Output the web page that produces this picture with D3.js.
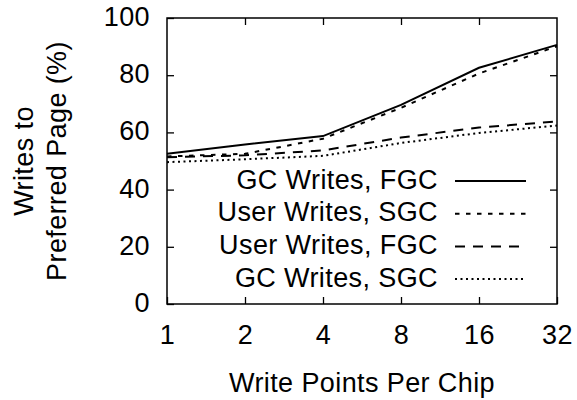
<!DOCTYPE html>
<html>
<head>
<meta charset="utf-8">
<script src="https://cdn.jsdelivr.net/npm/d3@7"></script>
<style>
  body { margin: 0; background: #fff; }
  text { font-family: "Liberation Sans", Arial, Helvetica, sans-serif; fill: #000; letter-spacing: 0.4px; }
</style>
</head>
<body>
<div id="chart"></div>
<script>
// write points per chip
const points = [1, 2, 4, 8, 16, 32];
const yTicks = [0, 20, 40, 60, 80, 100];

const seriesNames = ["GC Writes, FGC", "User Writes, SGC", "User Writes, FGC", "GC Writes, SGC"];
const gcFgc   = [52.5, 55.8, 58.7, 69.6, 82.6, 90.6];
const userSgc = [51.6, 52.5, 57.8, 68.6, 80.6, 90.1];
const userFgc = [51.3, 52.0, 53.7, 58.2, 61.7, 63.8];
const gcSgc   = [49.6, 50.6, 51.8, 56.3, 59.8, 62.4];
const seriesValues = [gcFgc, userSgc, userFgc, gcSgc];
const dashes = [null, "4.5,6.5", "10,8", "2,3.5"];

const width = 577, height = 400;
const margin = {top: 18, right: 20, bottom: 96, left: 167};
const innerW = width - margin.left - margin.right,
    innerH = height - margin.top - margin.bottom;

const svg = d3.select("#chart")
  .append("svg")
  .attr("width", width)
  .attr("height", height);

const g = svg.append("g")
  .attr("transform", `translate(${margin.left},${margin.top})`);

const x = d3.scaleLog().base(2)
  .domain([1, 32])
  .range([0, innerW]);

const y = d3.scaleLinear()
  .domain([0, 100])
  .range([innerH, 0]);

const fontSize = 27;

// bottom axis, ticks point inward
g.append("g")
  .attr("transform", `translate(0,${innerH})`)
  .call(d3.axisBottom(x).tickValues(points).tickFormat(d3.format("d")).tickSizeInner(-7).tickSizeOuter(0))
  .call(a => a.select(".domain").remove())
  .call(a => a.selectAll("line").attr("stroke-width", 1.3))
  .call(a => a.selectAll("text")
    .attr("y", 40).attr("dy", null)
    .attr("font-size", fontSize).attr("font-family", null));

// top axis, ticks only
g.append("g")
  .call(d3.axisTop(x).tickValues(points.slice(1, -1)).tickFormat("").tickSizeInner(-7).tickSizeOuter(0))
  .call(a => a.select(".domain").remove())
  .call(a => a.selectAll("line").attr("stroke-width", 1.3));

// left axis
g.append("g")
  .call(d3.axisLeft(y).tickValues(yTicks).tickSizeInner(-7).tickSizeOuter(0))
  .call(a => a.select(".domain").remove())
  .call(a => a.selectAll("line").attr("stroke-width", 1.3))
  .call(a => a.selectAll("text")
    .attr("x", -17).attr("y", 7.5).attr("dy", null)
    .attr("font-size", fontSize).attr("font-family", null));

// right axis, ticks only
g.append("g")
  .attr("transform", `translate(${innerW},0)`)
  .call(d3.axisRight(y).tickValues(yTicks.slice(1, -1)).tickFormat("").tickSizeInner(-7).tickSizeOuter(0))
  .call(a => a.select(".domain").remove())
  .call(a => a.selectAll("line").attr("stroke-width", 1.3));

// frame
g.append("rect")
  .attr("width", innerW)
  .attr("height", innerH)
  .attr("fill", "none")
  .attr("stroke", "#000")
  .attr("stroke-width", 1.5);

const line = d3.line()
  .x((d, i) => x(points[i]))
  .y(d => y(d));

g.append("g")
  .selectAll("path")
  .data(seriesValues)
  .join("path")
  .attr("d", line)
  .attr("fill", "none")
  .attr("stroke", "#000")
  .attr("stroke-width", 2)
  .attr("stroke-dasharray", (d, i) => dashes[i]);

// legend
const legend = g.append("g")
  .selectAll("g")
  .data(seriesNames)
  .join("g")
  .attr("transform", (d, i) => `translate(0,${163 + i * 32.7})`);

legend.append("text")
  .attr("x", 438 - margin.left)
  .attr("y", 7.5)
  .attr("text-anchor", "end")
  .attr("font-size", fontSize)
  .text(d => d);

legend.append("line")
  .attr("x1", 455 - margin.left)
  .attr("x2", 526 - margin.left)
  .attr("stroke", "#000")
  .attr("stroke-width", 2)
  .attr("stroke-dasharray", (d, i) => dashes[i]);

// axis titles
svg.append("text")
  .attr("x", margin.left + innerW / 2)
  .attr("y", 392)
  .attr("text-anchor", "middle")
  .attr("font-size", fontSize)
  .text("Write Points Per Chip");

const yTitle = svg.append("text")
  .attr("transform", `translate(33,${margin.top + innerH / 2}) rotate(-90)`)
  .attr("text-anchor", "middle")
  .attr("font-size", fontSize);
yTitle.append("tspan").attr("x", 0).attr("y", 0).text("Writes to");
yTitle.append("tspan").attr("x", 0).attr("y", 33).text("Preferred Page (%)");
</script>
</body>
</html>
